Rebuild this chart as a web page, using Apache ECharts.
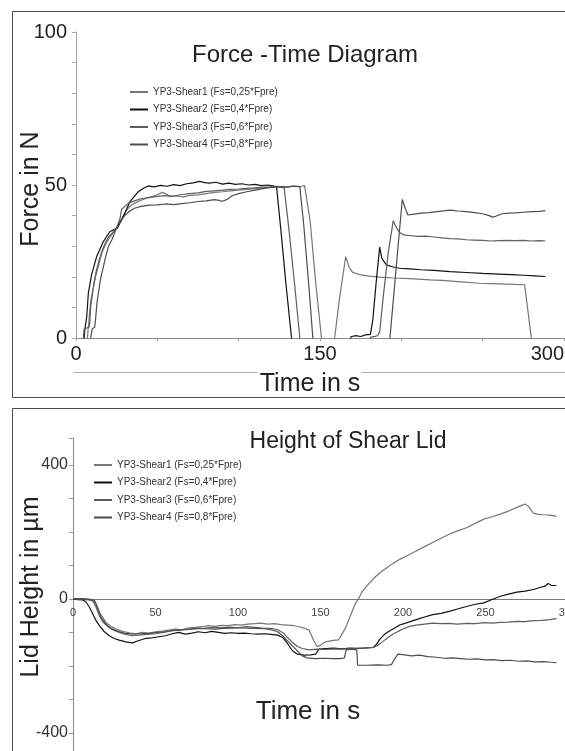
<!DOCTYPE html>
<html>
<head>
<meta charset="utf-8">
<title>Force-Time / Height of Shear Lid</title>
<script src="https://cdn.jsdelivr.net/npm/echarts@6/dist/echarts.min.js"></script>
<style>
	html, body {
		margin: 0;
		padding: 0;
		overflow: hidden;
		background: #fff;
	}
	#chart {
		width: 600px;
		height: 780px;
	}
</style>
</head>
<body>
<div id="chart"></div>
<script>
	// legend names
	const seriesNames = [
		'YP3-Shear1 (Fs=0,25*Fpre)',
		'YP3-Shear2 (Fs=0,4*Fpre)',
		'YP3-Shear3 (Fs=0,6*Fpre)',
		'YP3-Shear4 (Fs=0,8*Fpre)'
	]

	// tick labels that are printed
	const forceXLabels = [0, 150, 300]
	const forceYLabels = [0, 50, 100]
	const heightXLabels = [0, 50, 100, 150, 200, 250, 300]
	const heightYLabels = [-400, 0, 400]

	// Force in N over time in s  (values below 0 are cut off by the axis)
	const forceShear1 = [[0,-4],[6.5,-4],[7,0],[8,6],[9,12],[10.5,16],[12,20],[14,24],[16,28],[18.5,31],[21,33],[25,36],[28,39],[30,41],[33,43],[36,44],[40,45],[45,46],[50,46.8],[53,47.6],[55,47.2],[58,46.2],[62,46.4],[66,46.1],[70,46.6],[75,46.8],[80,47.2],[85,47.6],[90,47.8],[95,48.1],[100,48.3],[105,48.6],[110,48.8],[115,49.1],[120,49.3],[125,49.5],[130,49.4],[134,49.7],[138,49.5],[140.5,49.8],[141.7,49.2],[144,38],[147,20],[150.9,0],[152,-4],[158,-4],[159,0],[162,13],[165.8,26.6],[168,23],[170,21.5],[174.3,20.7],[180,20.2],[187,19.9],[195,19.6],[205,19.4],[217.6,19],[225,18.8],[235,18.4],[248,17.9],[255,17.8],[265,17.6],[275.8,17.4],[277,17.2],[279.9,0],[281,-4]]
	const forceShear2 = [[0,-4],[4.5,-4],[5,0],[5.5,3],[6.6,7],[7.6,14.7],[9.6,20.7],[12.7,26.6],[16.8,31.5],[20.9,34.8],[25.4,35.9],[29.1,39.7],[33.2,44.6],[38.3,47.8],[41,48.8],[44.4,49.7],[48,49.4],[52,49.9],[56,49.6],[60,50.1],[64,49.8],[68,50.4],[72,50.7],[76,51.2],[79,50.8],[82,50.6],[86,50.9],[90,50.3],[94,50.6],[98,50.2],[102,50.4],[106,50],[110,50.2],[114,49.8],[118,50],[121,49.7],[123.3,49.4],[126,35],[129,18],[132.5,0],[134,-4],[168,-4],[169,0.4],[172,0.8],[175,0.5],[178,1],[181,1.2],[182.5,6],[184.5,18],[186.7,29.7],[188,26],[190.8,23.9],[195,23.2],[199,22.8],[205,22.6],[212,22.3],[220,22.1],[230,21.7],[240,21.4],[250,21.1],[260,20.9],[268,20.7],[275,20.5],[282,20.3],[288.5,20.1]]
	const forceShear3 = [[0,-4],[4.2,-4],[4.5,0],[5,3],[6,3.3],[8,3.5],[8.5,5],[9,10],[10,14],[11,18],[12.5,22],[14,25],[16,28.5],[18,31],[20,33],[22,34.2],[25,36],[27,39],[28,42],[30,43],[32,44],[36,44.8],[40,45.5],[45,45.9],[50,46.3],[55,46.5],[60,46.4],[65,46.9],[70,47.2],[75,47.4],[80,47.9],[85,48.1],[90,48.3],[95,48.6],[100,48.7],[105,48.9],[110,49.1],[115,49.3],[120,49.4],[124,49.6],[126,49.3],[128,49],[131,35],[134.5,17],[137.6,0],[139,-4],[180,-4],[181,0.3],[184,0.5],[185.5,0.8],[186.7,2],[189,14],[192,28],[195,38.3],[197,36],[199,34.5],[201.6,33.7],[205,33.5],[210,33.2],[215,33.3],[220,33],[225,32.7],[230,32.5],[235,32.4],[240,32.1],[245,32],[250,31.9],[255,31.7],[260,31.8],[265,31.9],[270,31.8],[275,31.9],[280,31.7],[285,31.8],[288.5,31.7]]
	const forceShear4 = [[0,-4],[8.7,-4],[9,0],[10,3],[11.5,3.5],[12,6],[13,12],[15,19],[18,26],[20,30],[22,32],[25,36],[27,38],[30,40],[33,41.5],[36,42.4],[40,43],[45,43.4],[50,43.5],[55,43.8],[60,43.6],[65,43.9],[70,44.2],[75,44.6],[80,44.8],[85,45.2],[88,45],[90,44.7],[93,45.3],[96,46.5],[100,47.2],[105,47.8],[110,48.3],[115,48.8],[120,49.2],[125,49.5],[130,49.3],[134,49.6],[137.6,49.4],[140,37],[143,18],[145.6,0],[147,-4],[192,-4],[193,0],[195.5,15],[198,30],[200.6,45.3],[202,43],[204,40.2],[208,40.5],[212,40.8],[217,41],[222,41.3],[227,41.6],[230,41.8],[235,41.5],[240,41.3],[245,41],[250,40.6],[254,40],[256,39.5],[258,39.8],[262,40.6],[266,40.8],[270,40.9],[275,41.1],[280,41.3],[285,41.4],[288.5,41.6]]

	// Lid height in µm over time in s
	const heightShear1 = [[0,0],[5,0],[8,-3],[10,-1],[12,-4],[14,-15],[16,-40],[18,-55],[20,-70],[23,-82],[26,-90],[30,-97],[34,-101],[38,-104],[42,-100],[46,-102],[50,-98],[54,-96],[58,-93],[62,-90],[66,-92],[70,-86],[74,-85],[78,-83],[82,-80],[86,-82],[90,-79],[94,-80],[98,-77],[102,-78],[106,-75],[110,-74],[114,-72],[118,-75],[122,-74],[126,-77],[130,-78],[134,-80],[137,-83],[140,-87],[143,-93],[146,-125],[148,-143],[150,-138],[153,-128],[156,-125],[159,-123],[161,-122],[163,-105],[165,-88],[168,-52],[171,-15],[173,0],[175,20],[178,38],[182,60],[186,78],[190,92],[194,106],[198,118],[203,130],[208,143],[213,156],[218,168],[223,181],[228,193],[233,203],[239,213],[244,226],[249,238],[254,245],[259,253],[264,262],[269,273],[272,279],[274,283],[276,276],[279,256],[282,252],[285,251],[289,250],[293,246]]
	const heightShear2 = [[0,0],[3,-2],[6,-3],[8,-10],[10,-25],[12,-45],[14,-65],[16,-80],[19,-98],[22,-110],[25,-118],[28,-123],[32,-128],[36,-131],[40,-124],[44,-118],[48,-116],[52,-113],[56,-110],[60,-104],[64,-100],[68,-105],[72,-102],[76,-98],[80,-101],[84,-97],[88,-100],[92,-103],[96,-101],[100,-103],[104,-102],[108,-104],[112,-105],[116,-104],[120,-106],[124,-108],[127,-115],[130,-133],[133,-155],[136,-165],[140,-168],[144,-167],[147,-165],[149,-150],[153,-148],[158,-147],[163,-149],[168,-147],[173,-148],[178,-146],[182,-145],[184,-135],[186,-120],[189,-105],[192,-95],[195,-87],[198,-78],[203,-70],[208,-62],[213,-54],[218,-47],[223,-43],[228,-37],[233,-30],[239,-22],[244,-16],[249,-12],[254,-2],[259,8],[264,14],[269,20],[274,23],[279,28],[283,34],[286,38],[288,46],[290,40],[293,40]]
	const heightShear3 = [[0,0],[6,0],[9,-2],[12,-6],[14,-25],[16,-50],[18,-68],[21,-82],[24,-92],[28,-100],[32,-106],[36,-110],[40,-108],[45,-106],[50,-104],[55,-100],[60,-95],[65,-93],[70,-91],[75,-88],[80,-87],[85,-85],[90,-86],[95,-84],[100,-86],[105,-83],[110,-85],[115,-87],[120,-88],[124,-92],[127,-100],[130,-115],[133,-130],[136,-142],[139,-148],[143,-152],[148,-150],[153,-151],[158,-149],[163,-150],[168,-148],[173,-147],[178,-146],[182,-145],[185,-138],[188,-126],[191,-115],[194,-105],[197,-97],[200,-90],[204,-82],[208,-78],[213,-75],[218,-72],[223,-74],[228,-73],[233,-75],[239,-73],[244,-74],[249,-71],[254,-72],[259,-70],[264,-69],[269,-67],[274,-68],[279,-65],[284,-64],[289,-62],[293,-59]]
	const heightShear4 = [[0,0],[8,0],[11,-2],[13,-4],[15,-28],[17,-55],[20,-75],[23,-88],[27,-97],[31,-102],[36,-105],[41,-104],[46,-103],[51,-100],[56,-98],[61,-94],[66,-92],[71,-90],[76,-88],[81,-89],[86,-90],[91,-88],[96,-87],[101,-86],[106,-87],[111,-88],[116,-89],[120,-92],[124,-98],[127,-110],[130,-125],[133,-140],[136,-155],[139,-170],[142,-176],[147,-178],[152,-177],[157,-178],[162,-178],[164.5,-176],[165.5,-152],[169,-150],[172,-152],[172.5,-198],[178,-198],[185,-197],[190,-198],[193,-196],[195,-178],[197,-165],[201,-167],[205,-170],[210,-168],[215,-172],[220,-174],[225,-177],[230,-176],[235,-178],[240,-180],[245,-179],[250,-182],[255,-181],[260,-184],[265,-183],[270,-186],[275,-185],[280,-188],[285,-187],[290,-189],[293,-190]]

	const seriesColors = ['#767676', '#111111', '#5e5e5e', '#4c4c4c']
	const font = '"Liberation Sans", Arial, sans-serif'

	// height axis: -500 .. 480, the zero line sits 167.5px above the grid bottom
	const heightGridTop = 438
	const heightGridHeight = 328.5
	const zeroLift = heightGridHeight * 500 / 980

	function lineSeries(i, data, axisIndex) {
		return {
			name: seriesNames[i],
			type: 'line',
			xAxisIndex: axisIndex,
			yAxisIndex: axisIndex,
			data: data,
			showSymbol: false,
			symbol: 'none',
			clip: true,
			color: seriesColors[i],
			lineStyle: {
				width: 1.2,
				color: seriesColors[i]
			}
		}
	}

	function legendAt(left, top) {
		return {
			data: seriesNames,
			orient: 'vertical',
			left: left,
			top: top,
			icon: 'rect',
			itemWidth: 18,
			itemHeight: 2,
			itemGap: 5.5,
			selectedMode: false,
			padding: 0,
			textStyle: {
				fontFamily: font,
				fontSize: 10,
				lineHeight: 12,
				color: '#333'
			}
		}
	}

	function label(text, x, y, size, rotate) {
		return {
			type: 'text',
			x: x,
			y: y,
			rotation: rotate ? Math.PI / 2 : 0,
			silent: true,
			style: {
				text: text,
				fontFamily: font,
				fontSize: size,
				fill: '#222',
				textAlign: 'center',
				textVerticalAlign: 'middle'
			}
		}
	}

	function init() {
		const chart = echarts.init(document.getElementById('chart'), null, {
			renderer: 'canvas'
		})
		let option = {
			backgroundColor: '#fff',
			animation: false,
			grid: [{
				left: 76,
				top: 32,
				width: 488,
				height: 306,
				outerBoundsMode: 'none',
				containLabel: false
			}, {
				left: 73,
				top: heightGridTop,
				width: 495,
				height: heightGridHeight,
				outerBoundsMode: 'none',
				containLabel: false
			}],
			xAxis: [{
				gridIndex: 0,
				type: 'value',
				min: 0,
				max: 300,
				interval: 50,
				splitLine: { show: false },
				axisLine: { lineStyle: { color: '#8a8a8a', width: 1 } },
				axisTick: { show: true, length: 3, lineStyle: { color: '#9a9a9a' } },
				axisLabel: {
					margin: 6,
					fontFamily: font,
					fontSize: 20,
					color: '#222',
					alignMaxLabel: 'right',
					formatter: v => forceXLabels.includes(v) ? String(v) : ''
				}
			}, {
				gridIndex: 1,
				type: 'value',
				position: 'bottom',
				offset: -zeroLift,
				min: 0,
				max: 300,
				interval: 50,
				splitLine: { show: false },
				axisLine: { onZero: false, lineStyle: { color: '#7a7a7a', width: 1 } },
				axisTick: { show: false },
				axisLabel: {
					margin: 9,
					fontFamily: font,
					fontSize: 11,
					color: '#444',
					formatter: v => heightXLabels.includes(v) ? String(v) : ''
				}
			}],
			yAxis: [{
				gridIndex: 0,
				type: 'value',
				min: 0,
				max: 100,
				interval: 10,
				splitLine: { show: false },
				axisLine: { show: true, lineStyle: { color: '#a8a8a8', width: 1 } },
				axisTick: { show: true, length: 4, lineStyle: { color: '#a8a8a8' } },
				axisLabel: {
					margin: 9,
					fontFamily: font,
					fontSize: 20,
					color: '#222',
					formatter: v => forceYLabels.includes(v) ? String(v) : ''
				}
			}, {
				gridIndex: 1,
				type: 'value',
				min: -500,
				max: 480,
				interval: 100,
				splitLine: { show: false },
				axisLine: { show: true, onZero: false, lineStyle: { color: '#8a8a8a', width: 1 } },
				axisTick: { show: true, length: 4, lineStyle: { color: '#9a9a9a' } },
				axisLabel: {
					margin: 5,
					fontFamily: font,
					fontSize: 16,
					color: '#333',
					formatter: v => heightYLabels.includes(v) ? String(v) : ''
				}
			}],
			legend: [legendAt(130, 86), legendAt(94, 459)],
			graphic: [
				// panel frames
				{ type: 'rect', silent: true, shape: { x: 12.5, y: 11.5, width: 600, height: 386 }, style: { fill: 'none', stroke: '#4a4a4a', lineWidth: 1 } },
				{ type: 'rect', silent: true, shape: { x: 12.5, y: 408.5, width: 600, height: 400 }, style: { fill: 'none', stroke: '#4a4a4a', lineWidth: 1 } },
				// thin rule above the first axis title
				{ type: 'line', silent: true, shape: { x1: 73, y1: 372.5, x2: 257, y2: 372.5 }, style: { stroke: '#b0b0b0', lineWidth: 1 } },
				{ type: 'line', silent: true, shape: { x1: 361, y1: 372.5, x2: 600, y2: 372.5 }, style: { stroke: '#b0b0b0', lineWidth: 1 } },
				label('Force -Time Diagram', 305, 55, 24),
				label('Time in s', 310, 384, 25),
				label('Force in N', 31, 189, 25, true),
				label('Height of Shear Lid', 348, 442, 23),
				label('Time in s', 308, 712, 26),
				label('Lid Height in µm', 31, 587, 25, true)
			],
			series: [
				lineSeries(0, forceShear1, 0),
				lineSeries(1, forceShear2, 0),
				lineSeries(2, forceShear3, 0),
				lineSeries(3, forceShear4, 0),
				lineSeries(0, heightShear1, 1),
				lineSeries(1, heightShear2, 1),
				lineSeries(2, heightShear3, 1),
				lineSeries(3, heightShear4, 1)
			]
		}
		chart.setOption(option)
	}

	init()
</script>
</body>
</html>
